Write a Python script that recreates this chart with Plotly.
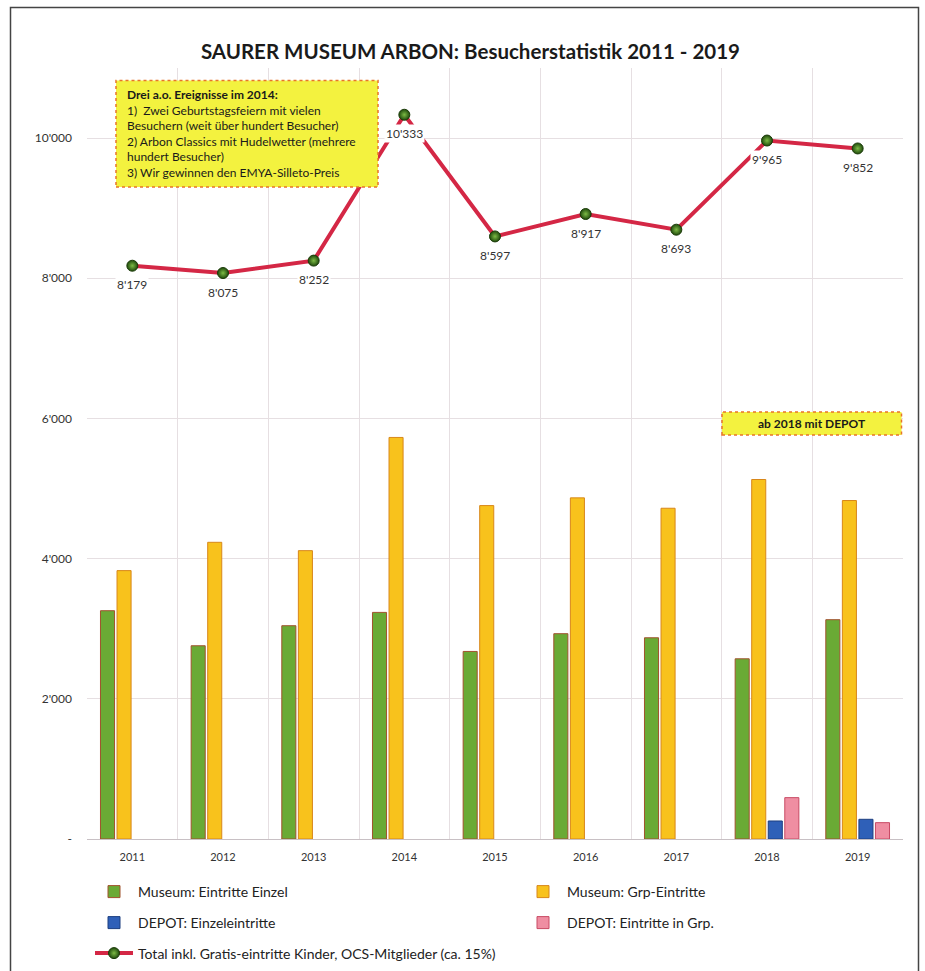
import plotly.graph_objects as go

years = ["2011", "2012", "2013", "2014", "2015", "2016", "2017", "2018", "2019"]
museum_einzel = [3257, 2757, 3043, 3233, 2676, 2929, 2871, 2571, 3129]
museum_grp = [3829, 4233, 4114, 5729, 4757, 4867, 4719, 5129, 4829]
depot_einzel = [None, None, None, None, None, None, None, 257, 281]
depot_grp = [None, None, None, None, None, None, None, 590, 233]
total = [8179, 8075, 8252, 10333, 8597, 8917, 8693, 9965, 9852]
total_labels = ["8'179", "8'075", "8'252", "10'333", "8'597", "8'917", "8'693", "9'965", "9'852"]
y_tickvals = [0, 2000, 4000, 6000, 8000, 10000]
y_ticktext = ["-", "2'000", "4'000", "6'000", "8'000", "10'000"]

FONT = "Lato"

W, H = 925, 971
ML, MR, MT, MB = 87, 22, 68, 132
PW = W - ML - MR
PH = H - MT - MB


def px(x):
    return (x - ML) / PW


def py(y):
    return (H - MB - y) / PH


def cx(x):
    return x / W


def cy(y):
    return 1 - y / H


fig = go.Figure()

fig.add_trace(go.Bar(x=years, y=museum_einzel, name="Museum: Eintritte Einzel",
                     marker=dict(color="#6aaa35", line=dict(color="#a0522d", width=1)),
                     legend="legend"))
fig.add_trace(go.Bar(x=years, y=museum_grp, name="Museum: Grp-Eintritte",
                     marker=dict(color="#f8c21c", line=dict(color="#d8871a", width=1)),
                     legend="legend2"))
fig.add_trace(go.Bar(x=years, y=depot_einzel, name="DEPOT: Einzeleintritte",
                     marker=dict(color="#2f60b8", line=dict(color="#1d3f80", width=1)),
                     legend="legend3"))
fig.add_trace(go.Bar(x=years, y=depot_grp, name="DEPOT: Eintritte in Grp.",
                     marker=dict(color="#ef8ea2", line=dict(color="#c84a64", width=1)),
                     legend="legend4"))
fig.add_trace(go.Scatter(x=years, y=total, mode="lines+markers",
                         name="Total inkl. Gratis-eintritte Kinder, OCS-Mitglieder (ca. 15%)",
                         line=dict(color="#d42745", width=4),
                         marker=dict(size=11, color="#1f4a0c",
                                     gradient=dict(type="radial", color="#7dbb45"),
                                     line=dict(color="#1a3a08", width=1)),
                         legend="legend5"))

for i, (v, lab) in enumerate(zip(total, total_labels)):
    fig.add_annotation(x=i, y=v, text=lab, showarrow=False, yshift=-19,
                       bgcolor="white", borderpad=1,
                       font=dict(family=FONT, size=12, color="#333333"))

# note box
fig.add_shape(type="rect", xref="paper", yref="paper",
              x0=px(116), x1=px(378), y0=py(187), y1=py(80.5),
              fillcolor="#f3f23f", line=dict(color="#e8742a", width=1.5, dash="dot"),
              layer="above")
fig.add_annotation(xref="paper", yref="paper", x=px(125), y=py(85),
                   xanchor="left", yanchor="top", align="left", showarrow=False,
                   text=("<b>Drei a.o. Ereignisse im 2014:</b><br>"
                         "1)  Zwei Geburtstagsfeiern mit vielen<br>"
                         "Besuchern (weit über hundert Besucher)<br>"
                         "2) Arbon Classics mit Hudelwetter (mehrere<br>"
                         "hundert Besucher)<br>"
                         "3) Wir gewinnen den EMYA-Silleto-Preis"),
                   font=dict(family=FONT, size=12, color="#1a1a1a"))

# depot box
fig.add_shape(type="rect", xref="paper", yref="paper",
              x0=px(722), x1=px(901.5), y0=py(435), y1=py(412),
              fillcolor="#f3f23f", line=dict(color="#e8742a", width=1.5, dash="dot"),
              layer="above")
fig.add_annotation(xref="paper", yref="paper", x=px(812), y=py(423.5),
                   xanchor="center", yanchor="middle", showarrow=False,
                   text="<b>ab 2018 mit DEPOT</b>",
                   font=dict(family=FONT, size=12, color="#1a1a1a"))

# outer frame
fig.add_shape(type="rect", xref="paper", yref="paper",
              x0=px(10.5), x1=px(918.5), y0=py(990), y1=py(7.5),
              line=dict(color="#444444", width=1.5), layer="below")

leg_common = dict(orientation="h", xanchor="left", yanchor="middle",
                  xref="container", yref="container",
                  font=dict(family=FONT, size=14, color="#222222"),
                  bgcolor="rgba(0,0,0,0)", itemwidth=38)

fig.update_layout(
    width=W, height=H,
    margin=dict(l=ML, r=MR, t=MT, b=MB, autoexpand=False),
    paper_bgcolor="white", plot_bgcolor="white",
    barmode="group", bargap=0.27, bargroupgap=0.15,
    title=dict(text="<b>SAURER MUSEUM ARBON: Besucherstatistik 2011 - 2019</b>",
               x=px(502), xanchor="center", y=1 - 52 / H, yanchor="middle",
               font=dict(family=FONT, size=20.5, color="#1a1a1a")),
    font=dict(family=FONT),
    xaxis=dict(type="category", range=[-0.5, 8.5], tickson="boundaries", showgrid=True,
               gridcolor="#e6dfe2", gridwidth=1, showline=True,
               linecolor="#c8c0c4", ticks="",
               tickfont=dict(family=FONT, size=11, color="#333333"),
               ticklabelstandoff=8),
    yaxis=dict(range=[0, 11000], tickvals=y_tickvals, ticktext=y_ticktext,
               showgrid=True, gridcolor="#e6dfe2", gridwidth=1, zeroline=False,
               showline=False, ticks="",
               tickfont=dict(family=FONT, size=12, color="#333333"),
               ticklabelstandoff=14),
    legend=dict(**leg_common, x=cx(90), y=cy(892)),
    legend2=dict(**leg_common, x=cx(519), y=cy(892)),
    legend3=dict(**leg_common, x=cx(90), y=cy(923)),
    legend4=dict(**leg_common, x=cx(519), y=cy(923)),
    legend5=dict(**leg_common, x=cx(90), y=cy(953.5)),
    showlegend=True,
)

fig.write_html("out.html", config={"displayModeBar": False},
               post_script="document.body.style.margin='0';")
